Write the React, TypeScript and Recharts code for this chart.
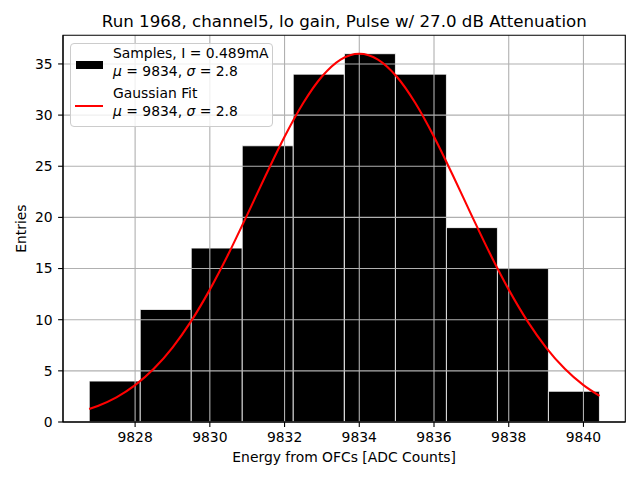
import {
  ComposedChart,
  Bar,
  Line,
  XAxis,
  YAxis,
  ReferenceLine,
  ReferenceArea,
  Label,
} from "recharts";

const FONT = "'DejaVu Sans', sans-serif";

// histogram (bin edges) and entry counts
const binEdges = [
  9826.77, 9828.14, 9829.5, 9830.87, 9832.23, 9833.6, 9834.97, 9836.33, 9837.7, 9839.06, 9840.43,
];
const binCounts = [4, 11, 17, 27, 34, 36, 34, 19, 15, 3];

// gaussian fit curve, sampled from the red line
const fitX = [
  9826.77, 9827, 9827.5, 9828, 9828.5, 9829, 9829.5, 9830, 9830.5, 9831, 9831.5, 9832, 9832.5,
  9833, 9833.5, 9834, 9834.5, 9835, 9835.5, 9836, 9836.5, 9837, 9837.5, 9838, 9838.5, 9839,
  9839.5, 9840, 9840.43,
];
const fitY = [
  1.27, 1.57, 2.41, 3.6, 5.2, 7.28, 9.86, 12.94, 16.44, 20.25, 24.14, 27.88, 31.18, 33.77, 35.43,
  36.0, 35.43, 33.77, 31.18, 27.88, 24.14, 20.25, 16.44, 12.94, 9.86, 7.28, 5.2, 3.6, 2.56,
];

const xTicks = [9828, 9830, 9832, 9834, 9836, 9838, 9840];
const yTicks = [0, 5, 10, 15, 20, 25, 30, 35];
const xDomain: [number, number] = [9826.07, 9841.12];
const yDomain: [number, number] = [0, 37.8];

const binData = binCounts.map((count, i) => ({
  center: (binEdges[i] + binEdges[i + 1]) / 2,
  count,
}));
const fitData = fitX.map((x, i) => ({ x, y: fitY[i] }));

const tickStyle = { fill: "#000", fontSize: 13.9, fontFamily: FONT };
const gridColor = "#b0b0b0";

function HistLegend() {
  const text: React.CSSProperties = {
    position: "absolute",
    left: 42,
    fontSize: 13.9,
    lineHeight: "17.7px",
    fontFamily: FONT,
    whiteSpace: "nowrap",
    color: "#000",
  };
  return (
    <div
      style={{
        position: "absolute",
        left: 70,
        top: 42.7,
        width: 203,
        height: 84.6,
        boxSizing: "border-box",
        border: "1px solid #cccccc",
        borderRadius: 4,
        background: "rgba(255,255,255,0.8)",
      }}
    >
      <div style={{ position: "absolute", left: 5, top: 17.3, width: 27, height: 8, background: "#000" }} />
      <div style={{ ...text, top: 1.7 }}>
        Samples, I = 0.489mA
        <br />
        <i>μ</i> = 9834, <i>σ</i> = 2.8
      </div>
      <div style={{ position: "absolute", left: 4, top: 61.3, width: 28, height: 2, background: "#ff0000" }} />
      <div style={{ ...text, top: 41.7 }}>
        Gaussian Fit
        <br />
        <i>μ</i> = 9834, <i>σ</i> = 2.8
      </div>
    </div>
  );
}

export default function App() {
  return (
    <div style={{ position: "absolute", left: 0, top: 0, width: 640, height: 480, background: "#fff" }}>
      <div
        style={{
          position: "absolute",
          left: 63,
          top: 11.5,
          width: 562.6,
          textAlign: "center",
          fontFamily: FONT,
          fontSize: 16.67,
          lineHeight: "20px",
          whiteSpace: "nowrap",
          color: "#000",
        }}
      >
        Run 1968, channel5, lo gain, Pulse w/ 27.0 dB Attenuation
      </div>
      <ComposedChart
        width={640}
        height={480}
        data={binData}
        margin={{ top: 35.3, right: 14.7, bottom: 28, left: 0 }}
        barCategoryGap={0}
        barGap={0}
      >
        <XAxis
          dataKey="x"
          type="number"
          domain={xDomain}
          ticks={xTicks}
          allowDataOverflow
          height={30}
          tick={tickStyle}
          tickSize={4.9}
          tickMargin={4.9}
          tickLine={{ stroke: "#000", strokeWidth: 1.1 }}
          axisLine={{ stroke: "#000", strokeWidth: 1.1 }}
        >
          <Label
            value="Energy from OFCs [ADC Counts]"
            position="bottom"
            offset={0}
            style={{ fill: "#000", fontSize: 13.9, fontFamily: FONT }}
          />
        </XAxis>
        <XAxis xAxisId="bins" dataKey="center" type="number" domain={xDomain} allowDataOverflow hide />
        <YAxis
          type="number"
          domain={yDomain}
          ticks={yTicks}
          allowDataOverflow
          width={63}
          tick={tickStyle}
          tickSize={4.9}
          tickMargin={5.5}
          tickLine={{ stroke: "#000", strokeWidth: 1.1 }}
          axisLine={{ stroke: "#000", strokeWidth: 1.1 }}
          label={{
            content: (props: any) => {
              const vb = props.viewBox || { x: 0, y: 0, height: 0 };
              const cx = vb.x + 26.3;
              const cy = vb.y + vb.height / 2;
              return (
                <text
                  x={cx}
                  y={cy}
                  transform={`rotate(-90, ${cx}, ${cy})`}
                  textAnchor="middle"
                  fill="#000"
                  fontSize={13.9}
                  fontFamily={FONT}
                >
                  Entries
                </text>
              );
            },
          }}
        />
        <Bar
          xAxisId="bins"
          dataKey="count"
          fill="#000"
          stroke="#fff"
          strokeWidth={0.8}
          isAnimationActive={false}
          zIndex={300}
        />
        {xTicks.map((t) => (
          <ReferenceLine key={`gx${t}`} x={t} stroke={gridColor} strokeWidth={1.1} zIndex={350} />
        ))}
        {yTicks.map((t) => (
          <ReferenceLine key={`gy${t}`} y={t} stroke={gridColor} strokeWidth={1.1} zIndex={350} />
        ))}
        <Line
          data={fitData}
          dataKey="y"
          type="monotone"
          stroke="#ff0000"
          strokeWidth={2.1}
          dot={false}
          activeDot={false}
          isAnimationActive={false}
          zIndex={400}
        />
        <ReferenceArea
          x1={xDomain[0]}
          x2={xDomain[1]}
          y1={yDomain[0]}
          y2={yDomain[1]}
          fill="none"
          fillOpacity={0}
          stroke="#000"
          strokeWidth={1.1}
          zIndex={450}
        />
      </ComposedChart>
      <HistLegend />
    </div>
  );
}
